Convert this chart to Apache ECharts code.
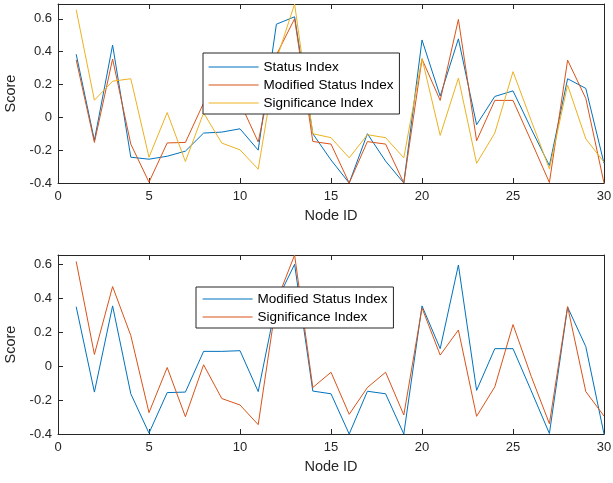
<!DOCTYPE html>
<html>
<head>
<meta charset="utf-8">
<title>Node scores</title>
<script src="https://cdn.jsdelivr.net/npm/echarts@6/dist/echarts.min.js"></script>
<style>
  html, body { margin: 0; padding: 0; background: #fff; }
  #chart { width: 613px; height: 483px; }
</style>
</head>
<body>
<div id="chart"></div>
<script>
// node ids on the x axis
const nodeIds = [1, 2, 3, 4, 5, 6, 7, 8, 9, 10, 11, 12, 13, 14, 15,
  16, 17, 18, 19, 20, 21, 22, 23, 24, 25, 26, 27, 28, 29, 30];

// top panel
const statusIndex = [0.384, -0.14, 0.44, -0.243, -0.255, -0.237, -0.206, -0.096, -0.09, -0.07,
  -0.2, 0.567, 0.612, -0.1, -0.26, -0.4, -0.1, -0.267, -0.4, 0.471,
  0.129, 0.478, -0.045, 0.127, 0.161, -0.07, -0.294, 0.235, 0.176, -0.28];
// same curve in both panels
const modifiedStatusIndex = [0.35, -0.153, 0.355, -0.163, -0.395, -0.156, -0.153, 0.087, 0.087, 0.091,
  -0.15, 0.38, 0.6, -0.147, -0.163, -0.4, -0.148, -0.163, -0.4, 0.355,
  0.103, 0.596, -0.143, 0.103, 0.103, -0.145, -0.397, 0.348, 0.115, -0.4];
const significanceTop = [0.655, 0.104, 0.22, 0.235, -0.243, 0.029, -0.269, 0.027, -0.157, -0.198,
  -0.316, 0.35, 0.69, -0.1, -0.124, -0.247, -0.106, -0.124, -0.247, 0.359,
  -0.11, 0.239, -0.28, -0.096, 0.278, -0.02, -0.314, 0.196, -0.131, -0.273];
// bottom panel
const significanceBottom = [0.617, 0.069, 0.469, 0.18, -0.274, -0.008, -0.298, 0.008, -0.191, -0.229,
  -0.345, 0.38, 0.655, -0.126, -0.036, -0.284, -0.126, -0.036, -0.288, 0.343,
  0.065, 0.213, -0.296, -0.122, 0.245, -0.06, -0.339, 0.351, -0.15, -0.294];

const xTicks = { min: 0, max: 30, interval: 5 };
const yTicks = { min: -0.4, interval: 0.2 };

const BLUE = "#0072BD";
const RED = "#D95319";
const YELLOW = "#EDB120";
const INK = "#262626";
const FONT = "'Liberation Sans', Arial, Helvetica, sans-serif";

const pairs = vals => nodeIds.map((id, i) => [id, vals[i]]);

const chart = echarts.init(document.getElementById("chart"), null, { renderer: "canvas" });

// one bottom/left axis with labels, one top/right axis for the box ticks
function xAxes(gridIndex) {
  const base = {
    type: "value",
    gridIndex,
    min: xTicks.min,
    max: xTicks.max,
    interval: xTicks.interval,
    splitLine: { show: false },
    axisLine: { show: true, onZero: false, lineStyle: { color: INK, width: 1 } },
    axisTick: { show: true, inside: true, length: 5, lineStyle: { color: INK } }
  };
  return [
    {
      ...base,
      position: "bottom",
      name: "Node ID",
      nameLocation: "middle",
      nameGap: 25,
      nameTextStyle: { color: INK, fontSize: 14.5, fontFamily: FONT },
      axisLabel: { color: INK, fontSize: 13, fontFamily: FONT, margin: 7 }
    },
    { ...base, position: "top", axisLabel: { show: false } }
  ];
}

function yAxes(gridIndex) {
  const base = {
    type: "value",
    gridIndex,
    min: yTicks.min,
    max: v => v.max,
    interval: yTicks.interval,
    splitLine: { show: false },
    axisLine: { show: true, onZero: false, lineStyle: { color: INK, width: 1 } },
    axisTick: { show: true, inside: true, length: 5, lineStyle: { color: INK } }
  };
  return [
    {
      ...base,
      position: "left",
      name: "Score",
      nameLocation: "middle",
      nameGap: 36,
      nameTextStyle: { color: INK, fontSize: 14.5, fontFamily: FONT },
      axisLabel: { color: INK, fontSize: 13, fontFamily: FONT, margin: 6, showMaxLabel: false }
    },
    { ...base, position: "right", axisLabel: { show: false } }
  ];
}

function line(name, vals, color, axisIndex) {
  return {
    name,
    type: "line",
    xAxisIndex: axisIndex,
    yAxisIndex: axisIndex,
    data: pairs(vals),
    symbol: "none",
    lineStyle: { color, width: 1 },
    itemStyle: { color },
    clip: true
  };
}

// plain line sample, no marker
function legendItem(name, color) {
  return { name, itemStyle: { color, opacity: 0 }, lineStyle: { color, width: 1.2, opacity: 1 } };
}

const legendBase = {
  orient: "vertical",
  itemWidth: 50,
  itemHeight: 14,
  itemGap: 4,
  backgroundColor: "#fff",
  borderColor: INK,
  borderWidth: 1,
  selectedMode: false,
  textStyle: { color: "#000", fontSize: 13.5, fontFamily: FONT }
};

chart.setOption({
  animation: false,
  backgroundColor: "#fff",
  grid: [
    { left: 58, top: 4, width: 546, height: 179, containLabel: false, outerBoundsMode: "none" },
    { left: 58, top: 255, width: 546, height: 179, containLabel: false, outerBoundsMode: "none" }
  ],
  xAxis: [...xAxes(0), ...xAxes(1)],
  yAxis: [...yAxes(0), ...yAxes(1)],
  legend: [
    {
      ...legendBase,
      left: 203,
      top: 53,
      padding: [7, 6, 4, 5],
      data: [
        legendItem("Status Index", BLUE),
        legendItem("Modified Status Index", RED),
        legendItem("Significance Index", YELLOW)
      ]
    },
    {
      ...legendBase,
      left: 196,
      top: 287,
      padding: [5, 6, 4, 6],
      data: [
        legendItem("Modified Status Index", BLUE),
        legendItem("Significance Index", RED)
      ]
    }
  ],
  series: [
    line("Status Index", statusIndex, BLUE, 0),
    line("Modified Status Index", modifiedStatusIndex, RED, 0),
    line("Significance Index", significanceTop, YELLOW, 0),
    line("Modified Status Index", modifiedStatusIndex, BLUE, 2),
    line("Significance Index", significanceBottom, RED, 2)
  ]
});
</script>
</body>
</html>
